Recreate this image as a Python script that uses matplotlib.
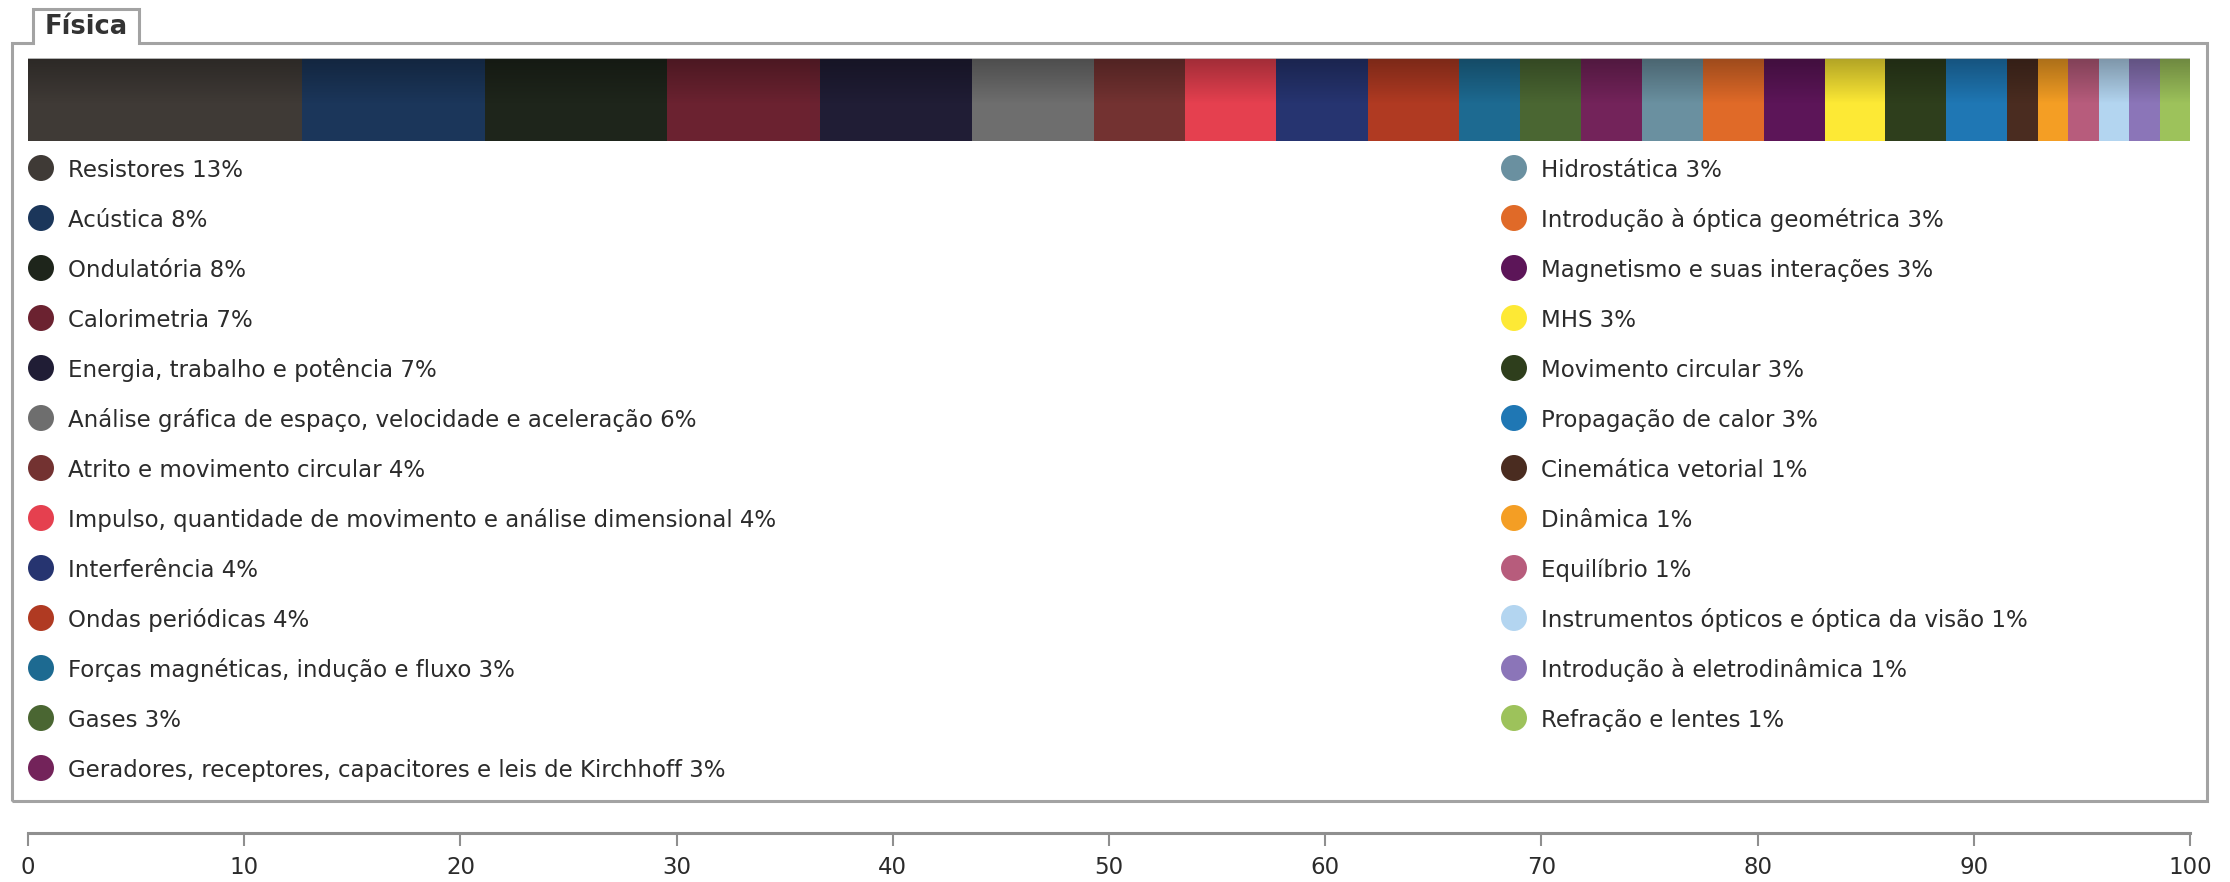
import numpy as np
import matplotlib
matplotlib.use("Agg")
import matplotlib.pyplot as plt
from matplotlib.path import Path
from matplotlib.patches import PathPatch

# Question counts per physics topic (share of the total is drawn and labelled)
topics = [
    "Resistores", "Acústica", "Ondulatória", "Calorimetria",
    "Energia, trabalho e potência",
    "Análise gráfica de espaço, velocidade e aceleração",
    "Atrito e movimento circular",
    "Impulso, quantidade de movimento e análise dimensional",
    "Interferência", "Ondas periódicas",
    "Forças magnéticas, indução e fluxo", "Gases",
    "Geradores, receptores, capacitores e leis de Kirchhoff",
    "Hidrostática", "Introdução à óptica geométrica",
    "Magnetismo e suas interações", "MHS", "Movimento circular",
    "Propagação de calor", "Cinemática vetorial", "Dinâmica",
    "Equilíbrio", "Instrumentos ópticos e óptica da visão",
    "Introdução à eletrodinâmica", "Refração e lentes",
]
counts = [9, 6, 6, 5, 5, 4, 3, 3, 3, 3, 2, 2, 2, 2, 2, 2, 2, 2, 2,
          1, 1, 1, 1, 1, 1]
colors = [
    "#3f3a36", "#1b365a", "#1e251b", "#6b2230", "#201d35", "#6e6e6e",
    "#733231", "#e5404f", "#263470", "#b03a22", "#1d6a91", "#4a6632",
    "#73235a", "#6a90a0", "#e06a28", "#5c1558", "#fde935", "#2e3e1c",
    "#1f77b4", "#4a2c20", "#f49e24", "#b75c7c", "#b3d5f0", "#8b75b8",
    "#9dc25b",
]
title = "Física"
x_ticks = [0, 10, 20, 30, 40, 50, 60, 70, 80, 90, 100]

shares = 100.0 * np.array(counts) / sum(counts)
labels = [f"{t} {round(s):.0f}%" for t, s in zip(topics, shares)]

W, H = 2230, 882
DPI = 100
fig = plt.figure(figsize=(W / DPI, H / DPI), dpi=DPI)
fig.patch.set_facecolor("white")
plt.rcParams["font.family"] = ["DejaVu Sans"]

TEXT = "#2b2b2b"
FRAME = "#a3a3a3"


def fig_rect(x0, y0, x1, y1):
    """Pixel box (top-left origin) -> figure fraction rect."""
    return [x0 / W, 1 - y1 / H, (x1 - x0) / W, (y1 - y0) / H]


# Overlay axes in pixel units for the panel frame, tab and legend
deco = fig.add_axes([0, 0, 1, 1])
deco.set_xlim(0, W)
deco.set_ylim(H, 0)
deco.axis("off")

frame_pts = [(12, 801), (12, 43), (33, 43), (33, 9), (139, 9), (139, 43),
             (2207, 43), (2207, 801), (12, 801)]
deco.add_patch(PathPatch(Path(frame_pts), facecolor="none", edgecolor=FRAME,
                         lw=2.2, joinstyle="miter"))
deco.text(86, 27, title, ha="center", va="center", fontsize=18.5,
          fontweight="bold", color="#333333")

# Legend: two columns, filled top to bottom
rows = 13
col_marker_x = [41, 1514]
row_y0, row_dy = 168, 50
for i, (lab, c) in enumerate(zip(labels, colors)):
    col, row = divmod(i, rows)
    y = row_y0 + row * row_dy
    mx = col_marker_x[col]
    deco.scatter([mx], [y], s=350, color=c, edgecolors="none")
    deco.text(mx + 27, y, lab, ha="left", va="center_baseline",
              fontsize=16.5, color=TEXT)

# Stacked horizontal bar
bar_ax = fig.add_axes(fig_rect(28, 58, 2190, 141))
left = np.concatenate([[0], np.cumsum(shares)[:-1]])
bar_ax.barh([0] * len(shares), shares, left=left, height=1.0,
            color=colors, edgecolor="none", linewidth=0)
bar_ax.set_xlim(0, 100)
bar_ax.set_ylim(-0.5, 0.5)
# darker sheen across the top of the bar
n = 200
alpha = np.clip((np.linspace(1, 0, n) - 0.45) / 0.55, 0, 1) * 0.3
shade = np.zeros((n, 2, 4))
shade[..., 3] = alpha[::-1, None]
bar_ax.imshow(shade, extent=(0, 100, -0.5, 0.5), aspect="auto",
              origin="lower", zorder=3, interpolation="bilinear")
bar_ax.axhline(0.5, color="#cfcfcf", lw=1.2, zorder=4)
bar_ax.axis("off")

# Percentage scale below the panel
scale_ax = fig.add_axes(fig_rect(28, 803, 2190, 833))
scale_ax.set_xlim(0, 100)
scale_ax.set_ylim(0, 1)
for side in ("top", "left", "right"):
    scale_ax.spines[side].set_visible(False)
scale_ax.spines["bottom"].set_color("#8f8f8f")
scale_ax.spines["bottom"].set_linewidth(2.2)
scale_ax.patch.set_visible(False)
scale_ax.set_yticks([])
scale_ax.set_xticks(x_ticks)
scale_ax.set_xticklabels([str(t) for t in x_ticks])
scale_ax.tick_params(axis="x", direction="out", length=9.5, width=1.5,
                     color="#8f8f8f", pad=7, labelsize=16.5,
                     labelcolor=TEXT)

fig.savefig("out.png", dpi=DPI, facecolor="white")
